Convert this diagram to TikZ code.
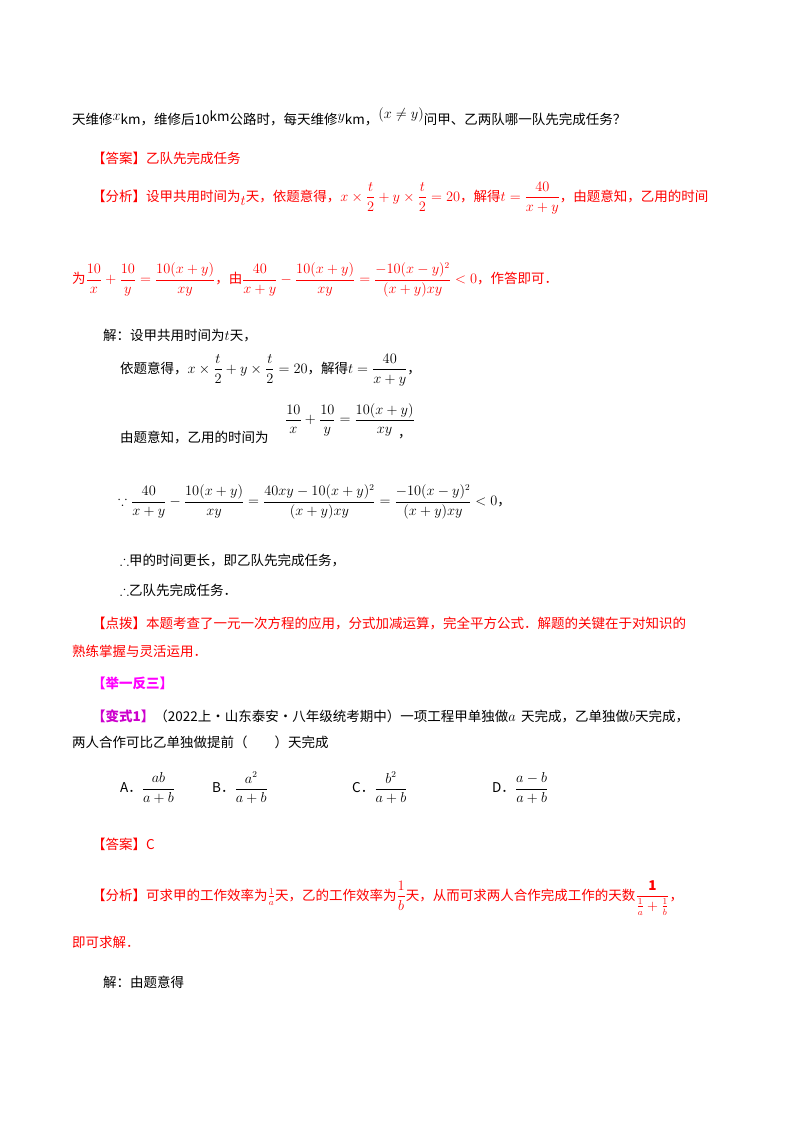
\documentclass[tikz,border=0pt]{standalone}
\usepackage{amsmath,amssymb}
\usepackage{fontspec}
\setmainfont{Noto Sans CJK SC}
\definecolor{ared}{RGB}{255,0,0}
\definecolor{amag}{RGB}{255,0,255}
\definecolor{apur}{RGB}{204,0,204}
\tikzset{t/.style={anchor=west,inner sep=0pt,font=\fontsize{13.5}{16}\selectfont},
 r/.style={t,text=ared}}
\begin{document}
\begin{tikzpicture}[x=1pt,y=-1pt]
\useasboundingbox (0,0) rectangle (800,1132);
\node[t] (l1) at (72,117) {天维修\raisebox{4pt}{$x$}km，维修后10\raisebox{3pt}{km}公路时，每天维修\raisebox{4pt}{$y$}km，\raisebox{6pt}{$(x\neq y)$}问甲、乙两队哪一队先完成任务？};
\node[r] (ans) at (92,158) {【答案】乙队先完成任务};
\node[r] (an1) at (92,198) {【分析】设甲共用时间为\raisebox{-4pt}{$t$}天，依题意得，$x\times\dfrac{t}{2}+y\times\dfrac{t}{2}=20$，解得$t=\dfrac{40}{x+y}$，由题意知，乙用的时间};
\node[r] (an2) at (72,280) {为$\dfrac{10}{x}+\dfrac{10}{y}=\dfrac{10(x+y)}{xy}$，由$\dfrac{40}{x+y}-\dfrac{10(x+y)}{xy}=\dfrac{-10(x-y)^2}{(x+y)xy}<0$，作答即可．};
\node[t] (s1) at (103,336) {解：设甲共用时间为$t$天，};
\node[t] (s2) at (120,370) {依题意得，$x\times\dfrac{t}{2}+y\times\dfrac{t}{2}=20$，解得$t=\dfrac{40}{x+y}$，};
\node[t] (s3) at (120,437) {由题意知，乙用的时间为};
\node[t] (s3f) at (285,420) {$\dfrac{10}{x}+\dfrac{10}{y}=\dfrac{10(x+y)}{xy}$};
\node[t] (s3c) at (398,437) {，};
\node[t] (s4) at (118,502) {$\because\dfrac{40}{x+y}-\dfrac{10(x+y)}{xy}=\dfrac{40xy-10(x+y)^2}{(x+y)xy}=\dfrac{-10(x-y)^2}{(x+y)xy}<0$，};
\node[t] (s5) at (120,560) {$\therefore$甲的时间更长，即乙队先完成任务，};
\node[t] (s6) at (120,590) {$\therefore$乙队先完成任务．};
\node[r] (d1) at (92,623) {【点拨】本题考查了一元一次方程的应用，分式加减运算，完全平方公式．解题的关键在于对知识的};
\node[r] (d2) at (72,651) {熟练掌握与灵活运用．};
\node[t,text=amag,font=\fontsize{13.5}{16}\bfseries] (h) at (92,683) {【举一反三】};
\node[t] (v1) at (92,716) {\textcolor{apur}{\bfseries【变式1】}（2022上·山东泰安·八年级统考期中）一项工程甲单独做$a$\,\ 天完成，乙单独做$b$天完成，};
\node[t] (v2) at (72,742) {两人合作可比乙单独做提前（\qquad）天完成};
\node[t] (oA) at (120,788) {A．$\dfrac{ab}{a+b}$};
\node[t] (oB) at (212,788) {B．$\dfrac{a^2}{a+b}$};
\node[t] (oC) at (352,788) {C．$\dfrac{b^2}{a+b}$};
\node[t] (oD) at (492,788) {D．$\dfrac{a-b}{a+b}$};
\node[r] (a2) at (92,844) {【答案】C};
\node[r] (f1) at (92,898) {【分析】可求甲的工作效率为$\tfrac{1}{a}$天，乙的工作效率为$\dfrac{1}{b}$天，从而可求两人合作完成工作的天数$\dfrac{\mathbf{1}}{\frac{1}{a}+\frac{1}{b}}$，};
\node[r] (f2) at (72,942) {即可求解．};
\node[t] (j) at (103,982) {解：由题意得};
\end{tikzpicture}
\end{document}
